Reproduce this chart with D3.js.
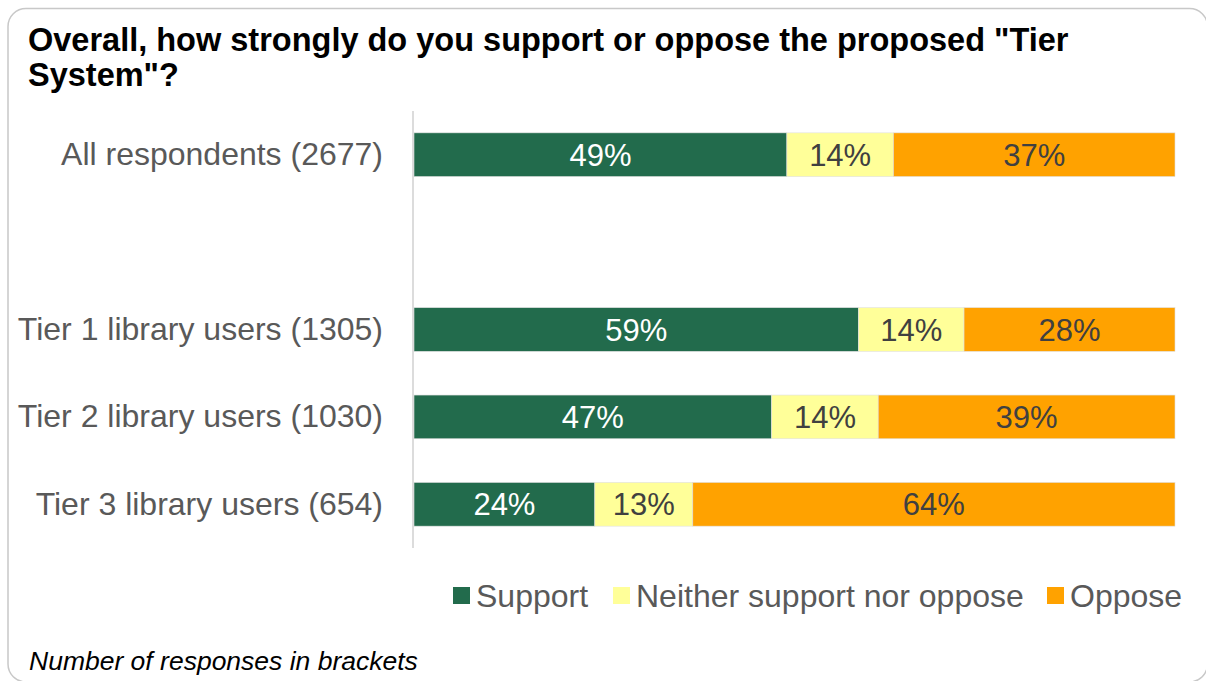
<!DOCTYPE html>
<html>
<head>
<meta charset="utf-8">
<script src="https://cdn.jsdelivr.net/npm/d3@7"></script>
<style>
  html, body { margin: 0; padding: 0; background: #fff; }
  svg { display: block; font-family: "Liberation Sans", Arial, sans-serif; }
</style>
</head>
<body>
<svg id="chart" width="1206" height="681"></svg>
<script>
// Survey rows (blank entry leaves a gap after the overall figure)
const categories = ["All respondents (2677)", "", "Tier 1 library users (1305)", "Tier 2 library users (1030)", "Tier 3 library users (654)"];
const seriesNames = ["Support", "Neither support nor oppose", "Oppose"];
const supportValues = [49, null, 59, 47, 24];
const neitherValues = [14, null, 14, 14, 13];
const opposeValues  = [37, null, 28, 39, 64];
const seriesColors = ["#226b4c", "#ffff99", "#ffa200"];
const labelColors  = ["#ffffff", "#404040", "#404040"];

const rows = categories.map((c, i) => ({
  cat: c,
  "Support": supportValues[i],
  "Neither support nor oppose": neitherValues[i],
  "Oppose": opposeValues[i]
}));

const svg = d3.select("#chart");

// Rounded frame
svg.append("rect")
  .attr("x", 8).attr("y", 8.5)
  .attr("width", 1199.5).attr("height", 673.5)
  .attr("rx", 18).attr("ry", 18)
  .attr("fill", "#fff").attr("stroke", "#c8c8c8").attr("stroke-width", 1.5);

// Title
const title = svg.append("text").attr("font-size", 32.5)
  .attr("font-weight", "bold").attr("fill", "#000");
title.append("tspan").attr("x", 28).attr("y", 51).text('Overall, how strongly do you support or oppose the proposed "Tier');
title.append("tspan").attr("x", 28).attr("y", 86).text('System"?');

const plot = { left: 414, right: 1175, top: 111, bottom: 548 };

const x = d3.scaleLinear().domain([0, 1]).range([plot.left, plot.right]);
const y = d3.scaleBand().domain(categories.map((c, i) => i))
  .range([plot.top, plot.bottom]).paddingInner(0.5).paddingOuter(0.25);

// Each row is shown as shares of its own total
const stack = d3.stack().keys(seriesNames)
  .value((d, k) => d[k] == null ? 0 : d[k])
  .offset(d3.stackOffsetExpand);
const stacked = stack(rows);

const layers = svg.append("g").selectAll("g").data(stacked).join("g")
  .attr("fill", (d, i) => seriesColors[i]);

layers.selectAll("rect")
  .data(d => d.map((p, i) => ({ p, i, key: d.key })).filter(o => rows[o.i][o.key] != null))
  .join("rect")
  .attr("x", o => x(o.p[0]))
  .attr("y", o => y(o.i))
  .attr("width", o => x(o.p[1]) - x(o.p[0]))
  .attr("height", y.bandwidth())
  .attr("stroke", "#e0e0e0").attr("stroke-width", 0.6);

// Value labels
stacked.forEach((layer, li) => {
  svg.append("g").selectAll("text")
    .data(layer.map((p, i) => ({ p, i })).filter(o => rows[o.i][layer.key] != null))
    .join("text")
    .attr("x", o => (x(o.p[0]) + x(o.p[1])) / 2)
    .attr("y", o => y(o.i) + y.bandwidth() / 2)
    .attr("dy", "0.36em")
    .attr("text-anchor", "middle")
    .attr("font-size", 31)
    .attr("fill", labelColors[li])
    .text(o => rows[o.i][layer.key] + "%");
});

// Category axis
const yAxis = d3.axisLeft(y).tickSize(0).tickPadding(30).tickFormat(i => categories[i]);
const ax = svg.append("g").attr("transform", `translate(${plot.left - 1},0)`).call(yAxis);
ax.select(".domain").attr("stroke", "#d0d0d0").attr("stroke-width", 1.5)
  .attr("d", `M0,${plot.top}V${plot.bottom}`);
ax.selectAll("text").attr("font-size", 32).attr("fill", "#595959")
  .attr("font-family", "Liberation Sans, Arial, sans-serif");

// Legend
const legend = svg.append("g").attr("transform", "translate(0,595)");
const legendX = [453, 613, 1047];
seriesNames.forEach((name, i) => {
  const g = legend.append("g").attr("transform", `translate(${legendX[i]},0)`);
  g.append("rect").attr("x", 0).attr("y", -8).attr("width", 17).attr("height", 17)
    .attr("fill", seriesColors[i]);
  g.append("text").attr("x", 23).attr("y", 0).attr("dy", "0.36em")
    .attr("font-size", 32).attr("fill", "#595959").text(name);
});

// Footnote
svg.append("text").attr("x", 29).attr("y", 670)
  .attr("font-size", 26.5).attr("font-style", "italic").attr("fill", "#000")
  .text("Number of responses in brackets");
</script>
</body>
</html>
